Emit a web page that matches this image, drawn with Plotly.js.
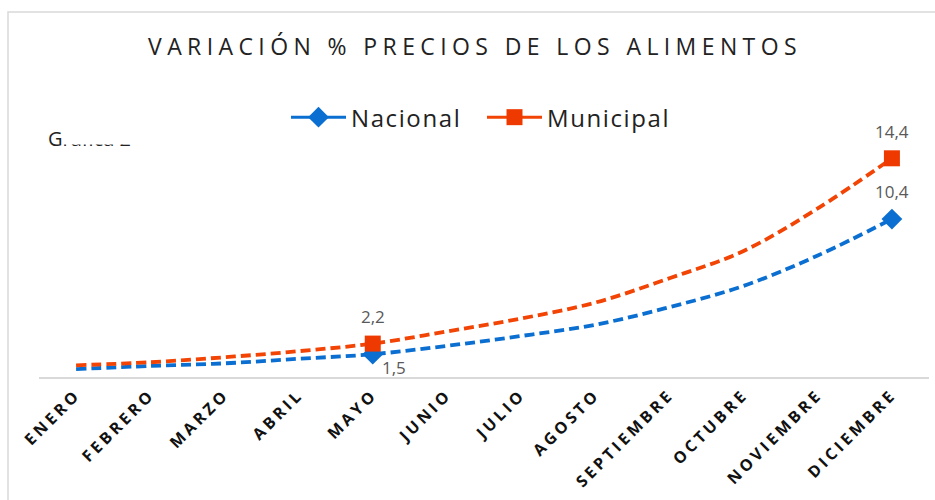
<!DOCTYPE html>
<html>
<head>
<meta charset="utf-8">
<script src="https://cdn.plot.ly/plotly-3.0.1.min.js"></script>
<style>
  html, body { margin: 0; padding: 0; background: #fff; }
  #chart { width: 935px; height: 500px; }
  .gtitle { letter-spacing: 5.4px; }
  .xtick text { letter-spacing: 3.4px; }
  .legendtext { letter-spacing: 1.6px; }
</style>
</head>
<body>
<div id="chart"></div>
<script>
const months = ["ENERO","FEBRERO","MARZO","ABRIL","MAYO","JUNIO","JULIO","AGOSTO","SEPTIEMBRE","OCTUBRE","NOVIEMBRE","DICIEMBRE"];

// Observed values (only MAYO and DICIEMBRE have points)
const nacionalValues  = [null,null,null,null,1.5,null,null,null,null,null,null,10.4];
const municipalValues = [null,null,null,null,2.2,null,null,null,null,null,null,14.4];

// Dashed trend curves
const nacionalTrend  = [0.52,0.73,0.9,1.2,1.5,2.05,2.7,3.44,4.6,6.0,8.0,10.4];
const municipalTrend = [0.77,0.97,1.3,1.7,2.2,3.0,3.85,4.9,6.5,8.3,11.1,14.4];

const blue = "#0a6fd1";
const orange = "#f24405";

// pixel geometry helpers
const W = 935, H = 500;
const L = 39, R = 6, T = 133.5, B = 122.5;
const pw = W - L - R, ph = H - T - B;
const px = v => (v - L) / pw;
const py = v => (H - B - v) / ph;

const traces = [
  {
    x: months, y: nacionalTrend, type: "scatter", mode: "lines",
    line: {color: blue, width: 3.8, dash: "10px,5px", shape: "spline"},
    showlegend: false, hoverinfo: "skip"
  },
  {
    x: months, y: municipalTrend, type: "scatter", mode: "lines",
    line: {color: orange, width: 3.8, dash: "10px,5px", shape: "spline"},
    showlegend: false, hoverinfo: "skip"
  },
  {
    name: "Nacional", x: months, y: nacionalValues, type: "scatter",
    mode: "lines+markers", connectgaps: false,
    line: {color: blue, width: 3},
    marker: {symbol: "diamond", size: 16, color: blue},
    cliponaxis: false
  },
  {
    name: "Municipal", x: months, y: municipalValues, type: "scatter",
    mode: "lines+markers", connectgaps: false,
    line: {color: orange, width: 3},
    marker: {symbol: "square", size: 16, color: "#ee3a00"},
    cliponaxis: false
  }
];

// data labels built from the value arrays
const fmt = v => v.toFixed(1).replace(".", ",");
const labelFont = {family: "Open Sans, sans-serif", size: 17, color: "#595959"};
const labels = [];
municipalValues.forEach((v, i) => {
  if (v === null) return;
  labels.push({x: months[i], y: v, text: fmt(v), showarrow: false,
    xref: "x", yref: "y", yshift: 27, font: labelFont});
});
nacionalValues.forEach((v, i) => {
  if (v === null) return;
  const last = i === nacionalValues.length - 1;
  labels.push({x: months[i], y: v, text: fmt(v), showarrow: false,
    xref: "x", yref: "y", xshift: last ? 0 : 21, yshift: last ? 28 : -13, font: labelFont});
});

const layout = {
  width: W, height: H,
  margin: {l: L, r: R, t: T, b: B, pad: 0},
  paper_bgcolor: "#fff", plot_bgcolor: "#fff",
  title: {
    text: "VARIACIÓN % PRECIOS DE LOS ALIMENTOS",
    font: {family: "Open Sans, sans-serif", size: 23, color: "#222"},
    x: 475 / W, xanchor: "center",
    y: 1 - 47 / H, yanchor: "middle", yref: "container"
  },
  xaxis: {
    type: "category", range: [-0.5, 11.5],
    showline: true, linecolor: "#d9d9d9", linewidth: 2,
    showgrid: false, zeroline: false, ticks: "",
    tickangle: -45,
    tickfont: {family: "Open Sans, sans-serif", size: 16, color: "#111", weight: "bold"},
    fixedrange: true
  },
  yaxis: {
    range: [0, 16], visible: false, fixedrange: true
  },
  legend: {
    orientation: "h", x: px(482), xanchor: "center",
    y: py(117), yanchor: "middle",
    font: {family: "Open Sans, sans-serif", size: 24, color: "#222"},
    itemwidth: 55, entrywidth: 126, bgcolor: "rgba(0,0,0,0)"
  },
  shapes: [
    {type: "rect", xref: "paper", yref: "paper",
     x0: px(8), x1: px(960), y0: py(520), y1: py(11),
     line: {color: "#d9d9d9", width: 1.5}, fillcolor: "rgba(0,0,0,0)", layer: "below"}
  ],
  annotations: labels.concat([
    {text: "Gráfica 2", xref: "paper", yref: "paper",
     x: px(46), xanchor: "left", y: py(138), yanchor: "middle",
     showarrow: false, font: {family: "Open Sans, sans-serif", size: 20, color: "#222"}},
    {text: " ", xref: "paper", yref: "paper",
     x: px(112), xanchor: "center", y: py(130), yanchor: "middle",
     width: 98, height: 26, bgcolor: "#fff", borderpad: 0,
     showarrow: false}
  ])
};

Plotly.newPlot("chart", traces, layout, {displayModeBar: false, staticPlot: true});
</script>
</body>
</html>
